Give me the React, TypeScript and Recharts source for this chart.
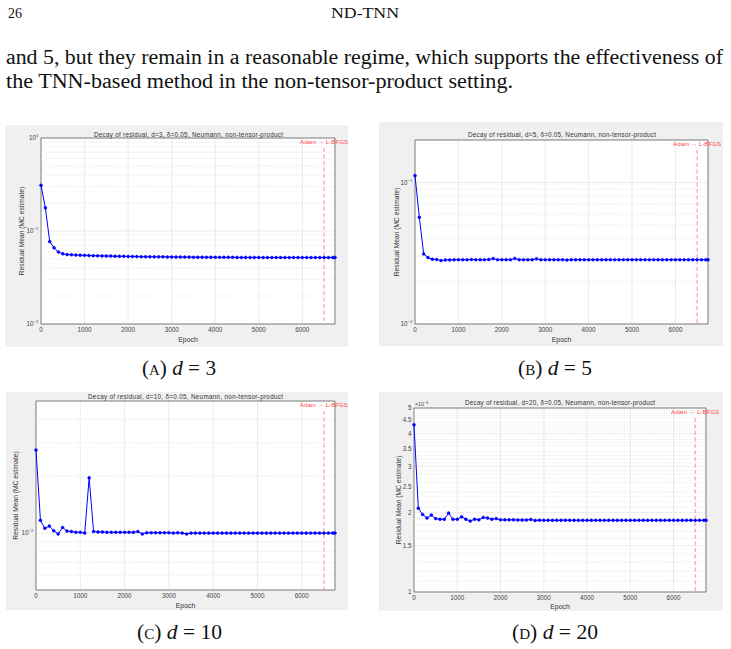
import {
  LineChart,
  Line,
  XAxis,
  YAxis,
  CartesianGrid,
  ReferenceLine,
  ReferenceArea,
  Label,
} from "recharts";

// Recorded epochs (every 100 epochs plus the final one)
const EPOCHS = [
  0, 100, 200, 300, 400, 500, 600, 700, 800, 900,
  1000, 1100, 1200, 1300, 1400, 1500, 1600, 1700, 1800, 1900,
  2000, 2100, 2200, 2300, 2400, 2500, 2600, 2700, 2800, 2900,
  3000, 3100, 3200, 3300, 3400, 3500, 3600, 3700, 3800, 3900,
  4000, 4100, 4200, 4300, 4400, 4500, 4600, 4700, 4800, 4900,
  5000, 5100, 5200, 5300, 5400, 5500, 5600, 5700, 5800, 5900,
  6000, 6100, 6200, 6300, 6400, 6500, 6600, 6700, 6750,
];
const X_TICKS = [0, 1000, 2000, 3000, 4000, 5000, 6000];
const SWITCH_EPOCH = 6500;

// Residual mean (MC estimate) per dimension
const RESID_D3 = [
  0.31, 0.178, 0.077, 0.066, 0.0595, 0.0568, 0.0558, 0.0555, 0.0552, 0.055,
  0.0547, 0.0545, 0.0543, 0.0541, 0.054, 0.0538, 0.0537, 0.0536, 0.0535, 0.0534,
  0.0533, 0.0532, 0.0531, 0.053, 0.0529, 0.0529, 0.0528, 0.0527, 0.0527, 0.0526,
  0.0526, 0.0525, 0.0525, 0.0524, 0.0524, 0.0523, 0.0523, 0.0523, 0.0522, 0.0522,
  0.0522, 0.0521, 0.0521, 0.0521, 0.0521, 0.052, 0.052, 0.052, 0.052, 0.052,
  0.052, 0.0519, 0.0519, 0.0519, 0.0519, 0.0519, 0.0519, 0.0519, 0.0519, 0.0519,
  0.0519, 0.0519, 0.0519, 0.0519, 0.0519, 0.0519, 0.0519, 0.0519, 0.0519,
];
const RESID_D5 = [
  0.112, 0.0568, 0.0313, 0.0295, 0.0287, 0.0286, 0.0281, 0.0284, 0.0284, 0.0285,
  0.0285, 0.0285, 0.0285, 0.0286, 0.0285, 0.0285, 0.0285, 0.0286, 0.029, 0.0285,
  0.0285, 0.0285, 0.0285, 0.0291, 0.0285, 0.0285, 0.0285, 0.0285, 0.0289, 0.0285,
  0.0285, 0.0285, 0.0285, 0.0285, 0.0285, 0.0283, 0.0285, 0.0285, 0.0285, 0.0285,
  0.0285, 0.0285, 0.0285, 0.0285, 0.0285, 0.0285, 0.0285, 0.0285, 0.0285, 0.0285,
  0.0285, 0.0285, 0.0285, 0.0285, 0.0285, 0.0285, 0.0285, 0.0285, 0.0285, 0.0285,
  0.0285, 0.0285, 0.0285, 0.0285, 0.0285, 0.0285, 0.0285, 0.0285, 0.0285,
];
const RESID_D10 = [
  0.0275, 0.0117, 0.0106, 0.0109, 0.0103, 0.0099, 0.0107, 0.01025, 0.0102, 0.0101,
  0.0101, 0.01, 0.0196, 0.0102, 0.01015, 0.01015, 0.0101, 0.0101, 0.0101, 0.0101,
  0.0101, 0.0101, 0.0101, 0.0102, 0.0099, 0.01005, 0.01005, 0.01005, 0.01005, 0.01005,
  0.01005, 0.01, 0.01005, 0.01, 0.0099, 0.01, 0.01, 0.01, 0.01, 0.01,
  0.01, 0.01, 0.01, 0.01, 0.01, 0.01, 0.01, 0.01, 0.01, 0.01,
  0.01, 0.01, 0.01, 0.01, 0.01, 0.01, 0.01, 0.01, 0.01, 0.01,
  0.01, 0.01, 0.01, 0.01, 0.01, 0.01, 0.01, 0.01, 0.01,
];
// d=20, in units of 1e-3
const RESID_D20 = [
  4.32, 2.08, 1.97, 1.91, 1.96, 1.9, 1.89, 1.89, 1.995, 1.89,
  1.89, 1.93, 1.89, 1.86, 1.89, 1.88, 1.92, 1.91, 1.89, 1.9,
  1.88, 1.88, 1.88, 1.88, 1.877, 1.877, 1.877, 1.885, 1.87, 1.875,
  1.872, 1.872, 1.872, 1.872, 1.872, 1.875, 1.872, 1.872, 1.872, 1.872,
  1.872, 1.872, 1.872, 1.872, 1.872, 1.872, 1.872, 1.872, 1.872, 1.872,
  1.872, 1.872, 1.872, 1.872, 1.872, 1.872, 1.872, 1.872, 1.872, 1.872,
  1.872, 1.872, 1.872, 1.872, 1.872, 1.872, 1.872, 1.872, 1.872,
];

// y ticks (labelled) and minor grid values
const Y_TICKS_D3 = [0.01, 0.1, 1];
const Y_MINOR_D3 = [0.02, 0.03, 0.04, 0.05, 0.06, 0.07, 0.08, 0.09, 0.2, 0.3, 0.4, 0.5, 0.6, 0.7, 0.8, 0.9];
const Y_TICKS_D5 = [0.01, 0.1];
const Y_MINOR_D5 = [0.02, 0.03, 0.04, 0.05, 0.06, 0.07, 0.08, 0.09];
const Y_TICKS_D10 = [0.01];
const Y_MINOR_D10 = [0.006, 0.007, 0.008, 0.009, 0.02, 0.03, 0.04];
const Y_TICKS_D20 = [1, 1.5, 2, 2.5, 3, 3.5, 4, 4.5, 5];
const Y_MINOR_D20 = [
  1.1, 1.2, 1.3, 1.4, 1.6, 1.7, 1.8, 1.9, 2.1, 2.2, 2.3, 2.4, 2.6, 2.7, 2.8, 2.9,
  3.1, 3.2, 3.3, 3.4, 3.6, 3.7, 3.8, 3.9, 4.1, 4.2, 4.3, 4.4, 4.6, 4.7, 4.8, 4.9,
];

const SANS = '"Liberation Sans", Arial, Helvetica, sans-serif';
const SERIF = '"Liberation Serif", "Times New Roman", serif';
const X_MAX = 6750;
const TICK_FONT = 6.3;

function PowerTick(props: any) {
  const { x, y, payload } = props;
  const exp = Math.round(Math.log10(payload.value));
  return (
    <text x={x} y={y + 2.2} textAnchor="end" fontSize={TICK_FONT} fill="#444" fontFamily={SANS}>
      10
      <tspan dy={-3.2} fontSize={4.3}>{exp < 0 ? `\u2212${-exp}` : `${exp}`}</tspan>
    </text>
  );
}

interface PanelProps {
  values: number[];
  domain: [number, number];
  ticks: number[];
  minor: number[];
  power: boolean;
  box: { x: number; y: number; w: number; h: number };
  plot: { l: number; t: number; r: number; b: number };
  labelX: number;
  epochOffset: number;
}

function Panel({ values, domain, ticks, minor, power, box, plot, labelX, epochOffset }: PanelProps) {
  const data = EPOCHS.map((epoch, i) => ({ epoch, value: values[i] }));
  const plotH = box.h - plot.t - plot.b;
  // dashed switch line starts ~10px below the top, leaving room for its label
  const lineTop = domain[1] * Math.pow(domain[0] / domain[1], 10 / plotH);

  return (
    <div style={{ position: "absolute", left: box.x, top: box.y, background: "#f0f0f0" }}>
      <LineChart
        width={box.w}
        height={box.h}
        data={data}
        margin={{ top: plot.t, right: plot.r, bottom: 0, left: 0 }}
      >
        <CartesianGrid stroke="#e2e2e2" strokeWidth={0.7} fill="#ffffff" />
        {minor.map((v) => (
          <ReferenceLine key={v} y={v} stroke="#d4d4d4" strokeWidth={0.6} strokeDasharray="1 1.5" />
        ))}
        <XAxis
          dataKey="epoch"
          type="number"
          domain={[0, X_MAX]}
          ticks={X_TICKS}
          height={plot.b}
          axisLine={false}
          tickLine={false}
          tickSize={2}
          tickMargin={1.2}
          tick={{ fontSize: TICK_FONT, fill: "#444", fontFamily: SANS }}
        >
          <Label
            value="Epoch"
            position="insideBottom"
            offset={epochOffset}
            fontSize={6.9}
            fill="#333"
            fontFamily={SANS}
          />
        </XAxis>
        <YAxis
          type="number"
          scale="log"
          domain={domain}
          allowDataOverflow
          ticks={ticks}
          width={plot.l}
          axisLine={false}
          tickLine={false}
          tickSize={1}
          tickMargin={1.5}
          tick={power ? <PowerTick /> : { fontSize: TICK_FONT, fill: "#444", fontFamily: SANS }}
        >
          <Label
            value="Residual Mean (MC estimate)"
            angle={-90}
            position="insideLeft"
            offset={labelX}
            style={{ textAnchor: "middle" }}
            fontSize={6.7}
            fill="#333"
            fontFamily={SANS}
          />
        </YAxis>
        <ReferenceLine
          segment={[
            { x: SWITCH_EPOCH, y: lineTop },
            { x: SWITCH_EPOCH, y: domain[0] },
          ]}
          stroke="#ff8080"
          strokeWidth={0.9}
          strokeDasharray="4 2.5"
        />
        <ReferenceLine
          x={SWITCH_EPOCH}
          stroke="none"
          label={{
            value: "Adam \u2192 L-BFGS",
            position: "insideTop",
            offset: 2,
            fill: "#ff4a4a",
            fontSize: 6.2,
            fontFamily: SANS,
          }}
        />
        <ReferenceArea
          x1={0}
          x2={X_MAX}
          y1={domain[0]}
          y2={domain[1]}
          fill="none"
          stroke="#505050"
          strokeWidth={0.7}
          ifOverflow="visible"
        />
        <Line
          dataKey="value"
          stroke="#0000ff"
          strokeWidth={1}
          dot={{ r: 1.5, fill: "#0000ff", stroke: "#0000ff", strokeWidth: 0.4 }}
          isAnimationActive={false}
        />
      </LineChart>
    </div>
  );
}

const TITLE = (d: number) =>
  `Decay of residual, d=${d}, \u03b4=0.05, Neumann, non-tensor-product`;

export default function App() {
  return (
    <div style={{ position: "absolute", left: 0, top: 0, width: 731, height: 649, background: "#fff" }}>
      <Panel
        values={RESID_D3}
        domain={[0.01, 1]}
        ticks={Y_TICKS_D3}
        minor={Y_MINOR_D3}
        power
        box={{ x: 5, y: 125, w: 343, h: 222 }}
        plot={{ l: 36, t: 13, r: 13, b: 23 }}
        labelX={17}
        epochOffset={5.5}
      />
      <Panel
        values={RESID_D5}
        domain={[0.01, 0.2]}
        ticks={Y_TICKS_D5}
        minor={Y_MINOR_D5}
        power
        box={{ x: 379, y: 122, w: 344, h: 224 }}
        plot={{ l: 36, t: 18, r: 15, b: 22 }}
        labelX={18}
        epochOffset={4.5}
      />
      <Panel
        values={RESID_D10}
        domain={[0.005, 0.05]}
        ticks={Y_TICKS_D10}
        minor={Y_MINOR_D10}
        power
        box={{ x: 6, y: 392, w: 342, h: 218 }}
        plot={{ l: 30, t: 9, r: 13, b: 20 }}
        labelX={10}
        epochOffset={2.5}
      />
      <Panel
        values={RESID_D20}
        domain={[1, 5]}
        ticks={Y_TICKS_D20}
        minor={Y_MINOR_D20}
        power={false}
        box={{ x: 379, y: 392, w: 344, h: 219 }}
        plot={{ l: 35, t: 16, r: 17, b: 19 }}
        labelX={20}
        epochOffset={2}
      />

      <svg
        width={731}
        height={649}
        style={{ position: "absolute", left: 0, top: 0, pointerEvents: "none" }}
      >
        {/* running head */}
        <text x={8} y={18} fontSize={14} fontFamily={SERIF} fill="#111" textLength={14} lengthAdjust="spacingAndGlyphs">
          26
        </text>
        <text x={331} y={18} fontSize={14} fontFamily={SERIF} fill="#111" textLength={68} lengthAdjust="spacingAndGlyphs">
          ND-TNN
        </text>

        {/* body text */}
        <text x={6} y={64} fontSize={20} fontFamily={SERIF} fill="#111" textLength={717} lengthAdjust="spacingAndGlyphs">
          and 5, but they remain in a reasonable regime, which supports the effectiveness of
        </text>
        <text x={6} y={88} fontSize={20} fontFamily={SERIF} fill="#111" textLength={507} lengthAdjust="spacingAndGlyphs">
          the TNN-based method in the non-tensor-product setting.
        </text>

        {/* panel titles */}
        <g fontFamily={SANS} fontSize={6.3} fill="#333">
          <text x={94} y={136.5} textLength={189} lengthAdjust="spacing">{TITLE(3)}</text>
          <text x={468} y={136.8} textLength={188} lengthAdjust="spacing">{TITLE(5)}</text>
          <text x={88} y={399} textLength={195} lengthAdjust="spacing">{TITLE(10)}</text>
          <text x={465} y={405.3} textLength={190} lengthAdjust="spacing">{TITLE(20)}</text>
          <text x={415} y={405.5} fontSize={5.2} fill="#444">
            ×10<tspan dy={-2} fontSize={3.9}>−3</tspan>
          </text>
        </g>

        {/* sub-captions */}
        <g fontFamily={SERIF} fontSize={20} fill="#111">
          <text x={142} y={375} textLength={74} lengthAdjust="spacingAndGlyphs">
            (<tspan fontSize={14}>A</tspan>) <tspan fontStyle="italic">d</tspan> = 3
          </text>
          <text x={518} y={375} textLength={74} lengthAdjust="spacingAndGlyphs">
            (<tspan fontSize={14}>B</tspan>) <tspan fontStyle="italic">d</tspan> = 5
          </text>
          <text x={137} y={639} textLength={85} lengthAdjust="spacingAndGlyphs">
            (<tspan fontSize={14}>C</tspan>) <tspan fontStyle="italic">d</tspan> = 10
          </text>
          <text x={512} y={639} textLength={86} lengthAdjust="spacingAndGlyphs">
            (<tspan fontSize={14}>D</tspan>) <tspan fontStyle="italic">d</tspan> = 20
          </text>
        </g>
      </svg>
    </div>
  );
}
